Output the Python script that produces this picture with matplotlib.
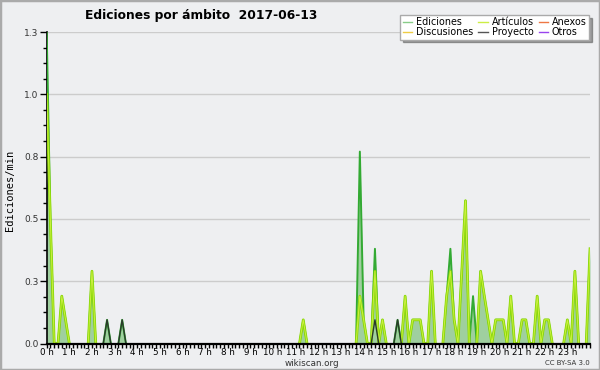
import numpy as np
import matplotlib
matplotlib.use('Agg')
import matplotlib.pyplot as plt
from matplotlib.lines import Line2D
from matplotlib.patches import Rectangle

# 10 minute bins over the day, index 0..144 (144 = 24 h)
n_bins = 145

# Ediciones (all namespaces), edits/min per bin
ed_idx = [0, 1, 4, 5, 12, 16, 20, 68, 83, 84, 87, 89, 93, 95, 97, 98, 99, 102,
          106, 107, 108, 110, 111, 113, 115, 116, 117, 119, 120, 121, 123,
          126, 127, 130, 132, 133, 138, 140, 144]
ed_val = [1.25, 0.48, 0.19, 0.095, 0.29, 0.095, 0.095, 0.095, 0.77, 0.095, 0.38,
          0.095, 0.095, 0.19, 0.095, 0.095, 0.095, 0.29,
          0.19, 0.38, 0.095, 0.29, 0.573, 0.19, 0.29, 0.19, 0.095, 0.095, 0.095,
          0.095, 0.19, 0.095, 0.095, 0.19, 0.095, 0.095, 0.095, 0.29, 0.38]

# Artículos
art_idx = [0, 1, 4, 5, 12, 68, 83, 84, 87, 89, 95, 97, 98, 99, 102,
           106, 107, 108, 110, 111, 115, 116, 117, 119, 120, 121, 123,
           126, 127, 130, 132, 133, 138, 140, 144]
art_val = [1.0, 0.48, 0.19, 0.095, 0.29, 0.095, 0.19, 0.095, 0.29, 0.095, 0.19,
           0.095, 0.095, 0.095, 0.29,
           0.19, 0.29, 0.095, 0.29, 0.573, 0.29, 0.19, 0.095, 0.095, 0.095, 0.095,
           0.19, 0.095, 0.095, 0.19, 0.095, 0.095, 0.095, 0.29, 0.38]

# Proyecto
proy_idx = [16, 20, 87, 93]
proy_val = [0.095, 0.095, 0.095, 0.095]

legend_labels = ['Ediciones', 'Discusiones', 'Artículos', 'Proyecto', 'Anexos', 'Otros']
legend_colors = ['#88cc88', '#eecc44', '#ccee44', '#555555', '#ee7744', '#9944ee']

y_ticks = [0, 0.25, 0.5, 0.75, 1.0, 1.25]
y_labels = ['0.0', '0.3', '0.5', '0.8', '1.0', '1.3']
hours = list(range(24))

def series(idx, val):
    s = np.zeros(n_bins)
    s[idx] = val
    return s

def no_baseline(s):
    # hide the flat runs at zero so the line only shows on the peaks
    nz = s > 0
    keep = nz.copy()
    keep[1:] |= nz[:-1]
    keep[:-1] |= nz[1:]
    return np.where(keep, s, np.nan)

t = np.arange(n_bins) / 6.0
ed = series(ed_idx, ed_val)
art = series(art_idx, art_val)
proy = series(proy_idx, proy_val)

bg = '#eeeff1'
fig = plt.figure(figsize=(6, 3.7), dpi=100, facecolor=bg)
ax = fig.add_axes([46.7 / 600, 1 - 343.5 / 370, 543.3 / 600, 311.5 / 370])
ax.set_facecolor(bg)

ax.fill_between(t, 0, ed, color='#9fcf9f', lw=0, zorder=2)
ax.plot(t, no_baseline(ed), color='#33aa33', lw=1.4, zorder=3)
ax.plot(t, no_baseline(art), color='#8fdc00', lw=2.0, alpha=0.9, zorder=4)
ax.plot(t, no_baseline(art), color='#ccf040', lw=0.7, zorder=5)
ax.plot(t, no_baseline(proy), color='#2a3a2a', lw=1.0, zorder=6)

ax.set_xlim(0, 24)
ax.set_ylim(0, 1.25)
ax.set_yticks(y_ticks)
ax.set_yticklabels(y_labels)
ax.set_yticks(np.arange(0, 1.25, 0.0625), minor=True)
ax.set_xticks(hours)
ax.set_xticklabels(['%d h' % h for h in hours])
ax.set_xticks(np.arange(0, 24.01, 1 / 6.0), minor=True)
ax.grid(axis='y', color='#cccccc', lw=1, zorder=0)
ax.set_axisbelow(True)

for s in ['top', 'right']:
    ax.spines[s].set_visible(False)
ax.spines['left'].set_linewidth(1.2)
ax.spines['bottom'].set_linewidth(1.6)
ax.spines['bottom'].set_zorder(10)
ax.tick_params(axis='x', which='both', direction='out', length=3, width=1,
               labelsize=6.3, pad=0.5, colors='black')
ax.tick_params(axis='y', which='major', length=5, width=1, labelsize=6.5, pad=1,
               colors='black', labelcolor='#333333')
ax.tick_params(axis='y', which='minor', length=3, width=1)

fig.text(10 / 600, 1 - 190 / 370, 'Ediciones/min', rotation=90, va='center', ha='center',
         family='DejaVu Sans Mono', fontsize=7.5)
fig.text(85 / 600, 1 - 15 / 370, 'Ediciones por ámbito  2017-06-13', ha='left', va='center',
         fontsize=8.8, fontweight='bold')
fig.text(312 / 600, 1 - 363 / 370, 'wikiscan.org', ha='center', va='center', fontsize=6.3,
         color='#333333')
fig.text(590 / 600, 1 - 363 / 370, 'CC BY-SA 3.0', ha='right', va='center', fontsize=5,
         color='#333333')

handles = [Line2D([], [], color=c, lw=1) for c in legend_colors]
leg = fig.legend(handles, legend_labels, ncol=3, loc='upper right',
                 bbox_to_anchor=(594 / 600, 1 - 10 / 370), fontsize=6.9,
                 handlelength=1.0, handletextpad=0.4, columnspacing=0.5,
                 labelspacing=0.0, borderpad=0.25, fancybox=False, shadow=True,
                 edgecolor='#aaaaaa', framealpha=1)

fig.patches.append(Rectangle((0, 0), 1, 1, transform=fig.transFigure, fill=False,
                             edgecolor='#aaaaaa', lw=2.5))

fig.savefig('out.png', dpi=100, facecolor=bg)
